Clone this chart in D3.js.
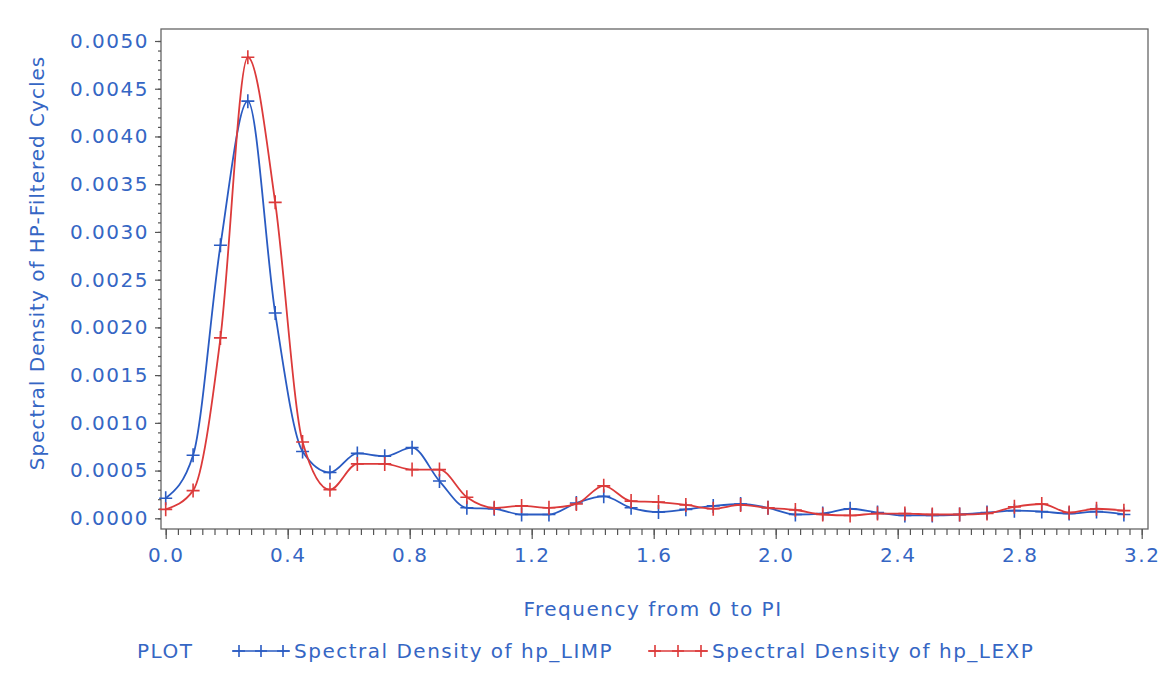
<!DOCTYPE html>
<html>
<head>
<meta charset="utf-8">
<script src="https://cdn.jsdelivr.net/npm/d3@7"></script>
<style>
  body { margin: 0; background: #fff; }
  svg text { font-family: "DejaVu Sans", sans-serif; fill: #3566c4; letter-spacing: 1.5px; }
</style>
</head>
<body>
<div id="chart"></div>
<script>
// Fourier frequencies k*PI/35
const freq = [
  0.0000, 0.0898, 0.1795, 0.2693, 0.3590, 0.4488, 0.5386, 0.6283, 0.7181,
  0.8078, 0.8976, 0.9874, 1.0771, 1.1669, 1.2566, 1.3464, 1.4362, 1.5259,
  1.6157, 1.7054, 1.7952, 1.8850, 1.9747, 2.0645, 2.1542, 2.2440, 2.3338,
  2.4235, 2.5133, 2.6030, 2.6928, 2.7826, 2.8723, 2.9621, 3.0518, 3.1416
];

const limp = [
  0.00021, 0.00066, 0.00286, 0.00437, 0.00215, 0.00070, 0.00048, 0.00068, 0.00065,
  0.00074, 0.00039, 0.00011, 0.00010, 0.00004, 0.00004, 0.00016, 0.00023, 0.00011,
  0.000066, 0.000094, 0.00013, 0.00015, 0.00011, 0.00004, 0.00005, 0.00010, 0.00006,
  0.00003, 0.00003, 0.00004, 0.00006, 0.00008, 0.00007, 0.00005, 0.00007, 0.00004
];

const lexp = [
  0.000094, 0.00029, 0.00189, 0.00483, 0.00331, 0.00080, 0.00030, 0.00057, 0.00057,
  0.00051, 0.00051, 0.00022, 0.00011, 0.00013, 0.00011, 0.00015, 0.00034, 0.00018,
  0.00017, 0.00014, 0.00010, 0.00014, 0.00011, 0.000087, 0.00004, 0.00003, 0.00005,
  0.00005, 0.00004, 0.00004, 0.00005, 0.00012, 0.00015, 0.00006, 0.00010, 0.00008
];

const xTicks = [0, 0.4, 0.8, 1.2, 1.6, 2.0, 2.4, 2.8, 3.2];
const yTicks = [0, 0.0005, 0.001, 0.0015, 0.002, 0.0025, 0.003, 0.0035, 0.004, 0.0045, 0.005];

const series = [
  { name: 'Spectral Density of hp_LIMP', values: limp, color: '#2a5bc2' },
  { name: 'Spectral Density of hp_LEXP', values: lexp, color: '#dc3a3a' }
];

const W = 1166, H = 687;
const frame = { left: 161, top: 29, right: 1148, bottom: 529 };

const svg = d3.select('#chart').append('svg')
  .attr('width', W)
  .attr('height', H);

const x = d3.scaleLinear().domain([0, 3.2]).range([165.7, 1141.7]);
const y = d3.scaleLinear().domain([0, 0.005]).range([518.3, 41]);

// frame
svg.append('rect')
  .attr('x', frame.left)
  .attr('y', frame.top)
  .attr('width', frame.right - frame.left)
  .attr('height', frame.bottom - frame.top)
  .attr('fill', 'none')
  .attr('stroke', '#666')
  .attr('stroke-width', 1.3);

// x axis: minor then major
const xMinor = d3.range(0, 81).map(i => i * 0.04);
svg.append('g')
  .attr('transform', `translate(0,${frame.bottom})`)
  .call(d3.axisBottom(x).tickValues(xMinor).tickSize(6).tickFormat(''))
  .call(g => g.select('.domain').remove());

svg.append('g')
  .attr('class', 'xaxis')
  .attr('transform', `translate(0,${frame.bottom})`)
  .call(d3.axisBottom(x).tickValues(xTicks).tickSize(10).tickPadding(9).tickFormat(d3.format('.1f')))
  .call(g => g.select('.domain').remove());

// y axis
const yMinor = d3.range(0, 51).map(i => i * 0.0001);
svg.append('g')
  .attr('transform', `translate(${frame.left},0)`)
  .call(d3.axisLeft(y).tickValues(yMinor).tickSize(3).tickFormat(''))
  .call(g => g.select('.domain').remove());

svg.append('g')
  .attr('class', 'yaxis')
  .attr('transform', `translate(${frame.left},0)`)
  .call(d3.axisLeft(y).tickValues(yTicks).tickSize(6).tickPadding(6).tickFormat(d3.format('.4f')))
  .call(g => g.select('.domain').remove());

svg.selectAll('.tick line').attr('stroke', '#555').attr('stroke-width', 1.2);
svg.selectAll('.tick text')
  .attr('fill', '#3566c4')
  .style('font-size', '20px')
  .style('font-family', '"DejaVu Sans", sans-serif');

// axis titles
svg.append('text')
  .attr('x', 653)
  .attr('y', 609)
  .attr('dy', '0.35em')
  .attr('text-anchor', 'middle')
  .style('font-size', '20px')
  .text('Frequency from 0 to PI');

svg.append('text')
  .attr('transform', 'translate(37,263) rotate(-90)')
  .attr('dy', '0.35em')
  .attr('text-anchor', 'middle')
  .style('font-size', '20px')
  .style('letter-spacing', '1px')
  .text('Spectral Density of HP-Filtered Cycles');

// curves
const line = d3.line()
  .x(d => x(d[0]))
  .y(d => y(d[1]))
  .curve(d3.curveMonotoneX);

const plus = (cx, cy, hw, hh) => `M${cx - hw},${cy}H${cx + hw}M${cx},${cy - hh}V${cy + hh}`;

series.forEach(s => {
  const pts = freq.map((f, i) => [f, s.values[i]]);
  svg.append('path')
    .datum(pts)
    .attr('d', line)
    .attr('fill', 'none')
    .attr('stroke', s.color)
    .attr('stroke-width', 1.8);

  svg.append('g').selectAll('path')
    .data(pts)
    .enter()
    .append('path')
    .attr('d', d => plus(x(d[0]), y(d[1]), 6.5, 7))
    .attr('stroke', s.color)
    .attr('stroke-width', 1.6);
});

// legend
const legY = 651;
svg.append('text')
  .attr('x', 137)
  .attr('y', legY)
  .attr('dy', '0.35em')
  .style('font-size', '20px')
  .text('PLOT');

const legItems = [
  { x0: 232, x1: 290, tx: 294 },
  { x0: 648, x1: 708, tx: 712 }
];

series.forEach((s, i) => {
  const it = legItems[i];
  svg.append('line')
    .attr('x1', it.x0).attr('x2', it.x1)
    .attr('y1', legY).attr('y2', legY)
    .attr('stroke', s.color)
    .attr('stroke-width', 1.6);
  [it.x0 + 7, (it.x0 + it.x1) / 2, it.x1 - 7].forEach(mx => {
    svg.append('path')
      .attr('d', plus(mx, legY, 6, 6))
      .attr('stroke', s.color)
      .attr('stroke-width', 1.6);
  });
  svg.append('text')
    .attr('x', it.tx)
    .attr('y', legY)
    .attr('dy', '0.35em')
    .style('font-size', '20px')
    .style('letter-spacing', '1.5px')
    .text(s.name);
});
</script>
</body>
</html>
